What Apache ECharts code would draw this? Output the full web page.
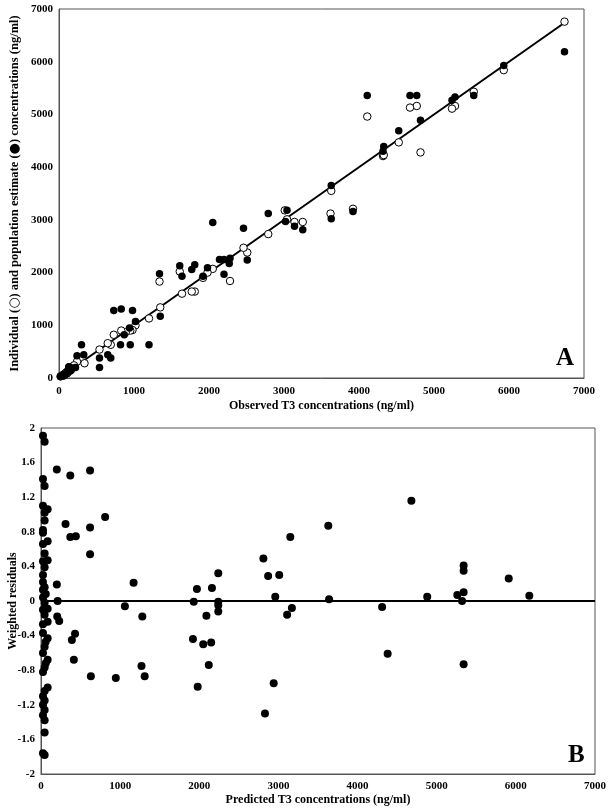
<!DOCTYPE html>
<html>
<head>
<meta charset="utf-8">
<script src="https://cdn.jsdelivr.net/npm/echarts@6/dist/echarts.min.js"></script>
<style>
  html, body { margin: 0; padding: 0; background: #fff; }
  #chart { width: 608px; height: 812px; }
</style>
</head>
<body>
<div id="chart"></div>
<script>
// Panel A: observed vs individual (open) and population (filled) estimates, ng/ml
const individualPoints = [
  [6740, 6760], [5930, 5840], [5530, 5430], [5280, 5160], [5240, 5110],
  [4820, 4280], [4770, 5160], [4680, 5130], [4530, 4470], [4320, 4210],
  [4330, 4230], [4110, 4960], [3920, 3210], [3620, 3120], [3630, 3550],
  [3250, 2960], [3140, 2960], [3040, 3010], [3010, 3180], [2790, 2730],
  [2510, 2380], [2460, 2470], [2280, 1840], [2050, 2070], [1980, 2000],
  [1920, 1900], [1810, 1640], [1770, 1640], [1640, 1600], [1610, 2020],
  [1350, 1340], [1340, 1830], [1200, 1130], [1020, 1000], [980, 910],
  [950, 900], [890, 870], [830, 900], [730, 820], [690, 630],
  [650, 660], [540, 540], [340, 280], [240, 310], [130, 170],
  [20, 30], [40, 40], [70, 60], [90, 100], [110, 90], [140, 130], [160, 170], [200, 240]
];
const populationPoints = [
  [6740, 6190], [5930, 5930], [5530, 5360], [5280, 5330], [5240, 5270],
  [4820, 4890], [4770, 5360], [4680, 5360], [4530, 4690], [4330, 4390],
  [4320, 4300], [4110, 5360], [3920, 3160], [3630, 3650], [3630, 3020],
  [3250, 2810], [3140, 2880], [3040, 3180], [3020, 2970], [2790, 3120],
  [2510, 2240], [2460, 2840], [2280, 2270], [2270, 2170], [2200, 2250],
  [2200, 1970], [2140, 2250], [2050, 2950], [1980, 2090], [1920, 1930],
  [1810, 2150], [1770, 2060], [1640, 1930], [1610, 2130], [1350, 1170],
  [1340, 1980], [1200, 630], [1020, 1070], [980, 1280], [950, 630],
  [940, 950], [870, 820], [830, 1310], [820, 630], [730, 1280],
  [690, 380], [650, 440], [540, 380], [540, 200], [300, 630],
  [330, 440], [240, 420], [220, 200], [130, 210], [135, 215], [122, 152],
  [20, 30], [40, 50], [60, 70], [80, 60], [100, 90], [110, 120],
  [150, 180], [160, 140], [180, 190], [60, 40]
];
const identityLine = [[0, 0], [6740, 6740]];

// Panel B: predicted concentration (ng/ml) vs weighted residual
const residualPoints = [
  [25, 1.91], [46, 1.84], [25, 1.41], [46, 1.33], [25, 1.10], [84, 1.06],
  [46, 1.02], [46, 0.93], [25, 0.82], [25, 0.79], [84, 0.69], [25, 0.66],
  [46, 0.55], [84, 0.47], [25, 0.46], [46, 0.39], [25, 0.30], [25, 0.22],
  [46, 0.16], [25, 0.13], [25, 0.04], [46, -0.02], [25, -0.10], [46, -0.16],
  [25, -0.27], [25, -0.37], [84, -0.43], [46, -0.53], [25, -0.60], [84, -0.68],
  [46, -0.77], [25, -0.82], [84, -1.00], [46, -1.04], [25, -1.10], [46, -1.15],
  [25, -1.20], [46, -1.26], [25, -1.32], [46, -1.38], [46, -1.52], [25, -1.76],
  [46, -1.78], [84, -0.09], [84, -0.24], [60, -0.72], [60, -0.47], [60, 0.08],
  [200, 1.52], [370, 1.45], [620, 1.51], [810, 0.97], [310, 0.89], [620, 0.85],
  [370, 0.74], [440, 0.75], [620, 0.54], [1170, 0.21], [200, 0.19], [210, 0.0],
  [1060, -0.06], [1280, -0.18], [205, -0.18], [230, -0.23], [390, -0.45],
  [430, -0.38], [415, -0.68], [1270, -0.75], [630, -0.87], [945, -0.89], [1310, -0.87],
  [3630, 0.87], [3150, 0.74], [2810, 0.49], [2240, 0.32], [2870, 0.29], [3010, 0.30],
  [1970, 0.14], [2160, 0.15], [1930, -0.01], [2960, 0.05], [3640, 0.02],
  [2240, -0.01], [2240, -0.05], [2240, -0.12], [2090, -0.17], [3170, -0.08],
  [3110, -0.16], [4310, -0.07], [1920, -0.44], [2050, -0.50], [2150, -0.48],
  [2120, -0.74], [4380, -0.61], [1980, -0.99], [2940, -0.95], [2830, -1.30],
  [4680, 1.16], [5340, 0.41], [5340, 0.35], [5910, 0.26], [4880, 0.05],
  [5260, 0.07], [5340, 0.10], [5320, 0.0], [6170, 0.06], [5340, -0.73]
];

const FONT = "'Liberation Serif', 'Times New Roman', serif";
const BORDER = '#555';

const chart = echarts.init(document.getElementById('chart'));

function tickLabel(margin, formatter) {
  return {
    color: '#000',
    fontFamily: FONT,
    fontWeight: 'bold',
    fontSize: 11,
    margin,
    showMinLabel: true,
    showMaxLabel: true,
    formatter,
  };
}

const plain = (v) => String(v);
const oneDecimal = (v) => String(Math.round(v * 10) / 10);

function valueAxis(gridIndex, min, max, interval, extra) {
  return Object.assign({
    type: 'value',
    gridIndex,
    min,
    max,
    interval,
    splitLine: { show: false },
    axisTick: { show: false },
    axisLine: { show: true, onZero: false, lineStyle: { color: BORDER, width: 1 } },
    nameLocation: 'middle',
    nameMoveOverlap: false,
    nameTextStyle: { color: '#000', fontFamily: FONT, fontWeight: 'bold', fontSize: 12 },
  }, extra);
}

chart.setOption({
  animation: false,
  backgroundColor: '#fff',
  grid: [
    { left: 59, top: 9, width: 525, height: 369, show: true, borderColor: BORDER, borderWidth: 1, containLabel: false, outerBoundsMode: 'none' },
    { left: 41, top: 428, width: 554, height: 346, show: true, borderColor: BORDER, borderWidth: 1, containLabel: false, outerBoundsMode: 'none' },
  ],
  xAxis: [
    valueAxis(0, 0, 7000, 1000, {
      name: 'Observed T3 concentrations (ng/ml)',
      nameGap: 22,
      axisLabel: tickLabel(8, plain),
    }),
    valueAxis(1, 0, 7000, 1000, {
      name: 'Predicted T3 concentrations (ng/ml)',
      nameGap: 20,
      axisLabel: tickLabel(7, plain),
    }),
  ],
  yAxis: [
    valueAxis(0, 0, 7000, 1000, {
      name: 'Individual ({g|○}) and population estimate ({g|●}) concentrations (ng/ml)',
      nameGap: 38,
      nameTextStyle: {
        color: '#000', fontFamily: FONT, fontWeight: 'bold', fontSize: 12.5,
        rich: { g: { fontFamily: 'DejaVu Sans', fontSize: 13, fontWeight: 'bold', color: '#000' } },
      },
      axisLabel: tickLabel(6, plain),
    }),
    valueAxis(1, -2, 2, 0.4, {
      name: 'Weighted residuals',
      nameGap: 22,
      axisLabel: tickLabel(6, oneDecimal),
    }),
  ],
  series: [
    {
      type: 'line',
      xAxisIndex: 0,
      yAxisIndex: 0,
      data: identityLine,
      showSymbol: false,
      symbol: 'none',
      lineStyle: { color: '#000', width: 2 },
      z: 1,
    },
    {
      name: 'Individual',
      type: 'scatter',
      xAxisIndex: 0,
      yAxisIndex: 0,
      data: individualPoints,
      symbol: 'circle',
      symbolSize: 7.5,
      itemStyle: { color: '#fff', borderColor: '#000', borderWidth: 1, opacity: 1 },
      z: 2,
    },
    {
      name: 'Population',
      type: 'scatter',
      xAxisIndex: 0,
      yAxisIndex: 0,
      data: populationPoints,
      symbol: 'circle',
      symbolSize: 7.5,
      itemStyle: { color: '#000', opacity: 1 },
      z: 3,
    },
    {
      name: 'Residuals',
      type: 'scatter',
      xAxisIndex: 1,
      yAxisIndex: 1,
      data: residualPoints,
      symbol: 'circle',
      symbolSize: 8,
      itemStyle: { color: '#000', opacity: 1 },
      z: 3,
      markLine: {
        silent: true,
        symbol: ['none', 'none'],
        label: { show: false },
        lineStyle: { color: '#000', width: 2, type: 'solid' },
        data: [{ yAxis: 0 }],
        z: 2,
      },
    },
  ],
  graphic: [
    {
      type: 'text',
      left: 556,
      top: 346,
      style: { text: 'A', fontFamily: FONT, fontWeight: 'bold', fontSize: 25, fill: '#000' },
    },
    {
      type: 'text',
      left: 568,
      top: 743,
      style: { text: 'B', fontFamily: FONT, fontWeight: 'bold', fontSize: 25, fill: '#000' },
    },
  ],
});
</script>
</body>
</html>
